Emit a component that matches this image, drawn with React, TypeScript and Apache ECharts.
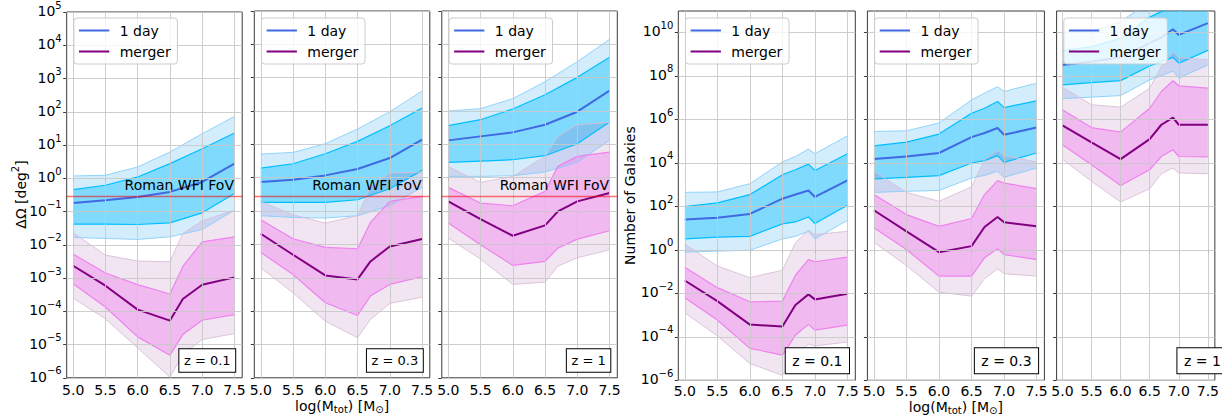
import React, { useEffect, useRef } from 'react';
import * as echarts from 'echarts';

const FONT = "'DejaVu Sans', 'Liberation Sans', sans-serif";

// ---------- x values: log10(M_tot / M_sun) ----------
const massLeftDay = [5.0, 5.5, 6.0, 6.5, 7.0, 7.5];
const massLeftMerger = [5.0, 5.5, 6.0, 6.5, 6.7, 7.0, 7.5];
const massRight = [5.0, 5.5, 6.0, 6.5, 6.7, 6.9, 7.0, 7.5];

const massTicks = [5.0, 5.5, 6.0, 6.5, 7.0, 7.5];
const areaTicksLog = [-6, -5, -4, -3, -2, -1, 0, 1, 2, 3, 4, 5];
const countTicksLog = [-6, -4, -2, 0, 2, 4, 6, 8, 10];
const redshiftLabels = ['z = 0.1', 'z = 0.3', 'z = 1'];
const romanWfiFov = 0.281; // deg^2
const legendNames = ['1 day', 'merger'];

// ---------- ΔΩ [deg²] panels, values are log10 ----------
// z = 0.1
const areaZ01DayMid = [-0.74, -0.66, -0.56, -0.41, -0.11, 0.44];
const areaZ01DayInHi = [-0.34, -0.21, 0.04, 0.44, 0.89, 1.36];
const areaZ01DayInLo = [-1.38, -1.38, -1.39, -1.34, -1.04, -0.46];
const areaZ01DayOutHi = [0.07, 0.09, 0.34, 0.79, 1.34, 1.86];
const areaZ01DayOutLo = [-1.78, -1.81, -1.84, -1.76, -1.54, -0.96];
const areaZ01MrgMid = [-2.63, -3.23, -3.95, -4.28, -3.63, -3.2, -2.98];
const areaZ01MrgInHi = [-2.28, -2.85, -3.2, -3.48, -2.65, -1.91, -1.76];
const areaZ01MrgInLo = [-3.17, -3.87, -4.77, -5.32, -4.7, -4.27, -4.1];
const areaZ01MrgOutHi = [-1.64, -2.31, -2.49, -2.51, -1.66, -1.28, -0.96];
const areaZ01MrgOutLo = [-3.6, -4.23, -5.1, -5.98, -5.3, -4.85, -4.67];
// z = 0.3
const areaZ03DayMid = [-0.13, -0.06, 0.07, 0.26, 0.59, 1.14];
const areaZ03DayInHi = [0.29, 0.42, 0.72, 1.09, 1.56, 2.09];
const areaZ03DayInLo = [-0.74, -0.74, -0.74, -0.66, -0.33, 0.22];
const areaZ03DayOutHi = [0.71, 0.76, 1.02, 1.46, 1.98, 2.6];
const areaZ03DayOutLo = [-1.14, -1.19, -1.21, -1.14, -0.84, -0.29];
const areaZ03MrgMid = [-1.68, -2.31, -2.93, -3.05, -2.51, -2.06, -1.84];
const areaZ03MrgInHi = [-1.26, -1.83, -2.09, -2.13, -1.34, -0.71, -0.56];
const areaZ03MrgInLo = [-2.24, -2.9, -3.75, -4.13, -3.55, -3.2, -2.97];
const areaZ03MrgOutHi = [-0.71, -1.11, -1.36, -1.14, -0.26, 0.14, 0.17];
const areaZ03MrgOutLo = [-2.7, -3.45, -4.3, -4.8, -4.25, -3.77, -3.58];
// z = 1
const areaZ1DayMid = [1.12, 1.24, 1.36, 1.59, 1.98, 2.61];
const areaZ1DayInHi = [1.56, 1.74, 2.06, 2.49, 3.01, 3.61];
const areaZ1DayInLo = [0.46, 0.5, 0.54, 0.66, 1.02, 1.67];
const areaZ1DayOutHi = [2.0, 2.07, 2.37, 2.88, 3.48, 4.15];
const areaZ1DayOutLo = [0.04, 0.04, 0.06, 0.17, 0.46, 1.12];
const areaZ1MrgMid = [-0.71, -1.24, -1.74, -1.43, -1.01, -0.71, -0.46];
const areaZ1MrgInHi = [-0.29, -0.76, -0.84, -0.41, 0.34, 0.64, 0.77];
const areaZ1MrgInLo = [-1.36, -2.01, -2.63, -2.51, -2.11, -1.84, -1.59];
const areaZ1MrgOutHi = [0.34, -0.14, 0.04, 0.64, 1.24, 1.59, 1.66];
const areaZ1MrgOutLo = [-1.81, -2.44, -3.2, -3.13, -2.65, -2.4, -2.16];

// ---------- Number of galaxies panels, values are log10 ----------
// z = 0.1
const countZ01DayMid = [1.39, 1.47, 1.65, 2.35, 2.54, 2.73, 2.43, 3.19];
const countZ01DayInHi = [1.99, 2.16, 2.54, 3.45, 3.68, 3.94, 3.65, 4.42];
const countZ01DayInLo = [0.5, 0.58, 0.62, 1.19, 1.28, 1.51, 1.21, 2.05];
const countZ01DayOutHi = [2.64, 2.66, 3.04, 4.04, 4.29, 4.63, 4.42, 5.24];
const countZ01DayOutLo = [-0.11, -0.06, -0.02, 0.5, 0.62, 0.85, 0.5, 1.36];
const countZ01MrgMid = [-1.41, -2.36, -3.44, -3.53, -2.54, -2.05, -2.28, -2.02];
const countZ01MrgInHi = [-0.8, -1.74, -2.39, -2.36, -1.17, -0.45, -0.55, -0.34];
const countZ01MrgInLo = [-2.2, -3.23, -4.53, -4.84, -3.93, -3.43, -3.69, -3.46];
const countZ01MrgOutHi = [0.27, -0.75, -1.28, -0.94, 0.32, 0.9, 0.7, 0.85];
const countZ01MrgOutLo = [-2.89, -3.96, -5.23, -5.77, -4.88, -4.34, -4.42, -4.24];
// z = 0.3
const countZ03DayMid = [4.17, 4.29, 4.45, 5.18, 5.37, 5.6, 5.29, 5.62];
const countZ03DayInHi = [4.78, 4.95, 5.32, 6.28, 6.51, 6.82, 6.54, 6.85];
const countZ03DayInLo = [3.26, 3.33, 3.41, 3.99, 4.1, 4.33, 4.02, 4.45];
const countZ03DayOutHi = [5.44, 5.47, 5.83, 6.89, 7.2, 7.5, 7.28, 7.66];
const countZ03DayOutLo = [2.64, 2.69, 2.73, 3.3, 3.42, 3.61, 3.33, 3.76];
const countZ03MrgMid = [1.82, 0.85, -0.11, 0.17, 1.05, 1.51, 1.27, 1.08];
const countZ03MrgInHi = [2.54, 1.62, 1.08, 1.44, 2.54, 3.18, 3.07, 2.81];
const countZ03MrgInLo = [1.01, 0.01, -1.21, -1.21, -0.37, 0.05, -0.22, -0.45];
const countZ03MrgOutHi = [3.61, 2.64, 2.23, 2.89, 4.14, 4.57, 4.33, 4.04];
const countZ03MrgOutLo = [0.35, -0.72, -1.95, -2.13, -1.33, -0.87, -1.1, -1.21];
// z = 1
const countZ1DayMid = [8.5, 8.65, 8.85, 9.5, 9.77, 10.14, 9.88, 10.42];
const countZ1DayInHi = [9.16, 9.33, 9.72, 10.7, 10.95, 11.25, 11.0, 11.5];
const countZ1DayInLo = [7.58, 7.69, 7.78, 8.45, 8.65, 8.85, 8.58, 9.17];
const countZ1DayOutHi = [10.0, 10.05, 10.5, 11.4, 11.7, 12.0, 11.8, 12.3];
const countZ1DayOutLo = [6.95, 7.02, 7.09, 7.81, 8.0, 8.22, 7.89, 8.5];
const countZ1MrgMid = [5.72, 4.94, 4.17, 5.09, 5.75, 6.08, 5.75, 5.75];
const countZ1MrgInHi = [6.44, 5.62, 5.41, 6.51, 7.28, 7.77, 7.54, 7.43];
const countZ1MrgInLo = [4.83, 3.91, 2.96, 3.68, 4.29, 4.6, 4.29, 4.27];
const countZ1MrgOutHi = [7.48, 6.67, 6.56, 7.43, 8.42, 9.11, 8.84, 8.73];
const countZ1MrgOutLo = [4.17, 3.15, 2.2, 2.81, 3.5, 3.76, 3.53, 3.5];

// ---------- styling ----------
const C_DAY = '#4169E1';
const C_MRG = '#800080';
const C_DAY_IN = '#00BFFF';
const C_DAY_OUT = '#87CEFA';
const C_MRG_IN = '#EE82EE';
const C_MRG_OUT_EDGE = '#d8bfd8';
const FILL_DAY_OUT = 'rgba(135,206,250,0.36)';
const FILL_DAY_IN = 'rgba(0,191,255,0.4)';
const FILL_MRG_OUT = 'rgba(128,0,128,0.1)';
const FILL_MRG_IN = 'rgba(238,130,238,0.45)';
const FRAME = '#3a3a3a';
const GRIDC = '#c9c9c9';

type Band = { mid: number[]; inHi: number[]; inLo: number[]; outHi: number[]; outLo: number[] };
const mk = (mid: number[], inHi: number[], inLo: number[], outHi: number[], outLo: number[]): Band => ({ mid, inHi, inLo, outHi, outLo });

const leftData = [
  { day: mk(areaZ01DayMid, areaZ01DayInHi, areaZ01DayInLo, areaZ01DayOutHi, areaZ01DayOutLo), mrg: mk(areaZ01MrgMid, areaZ01MrgInHi, areaZ01MrgInLo, areaZ01MrgOutHi, areaZ01MrgOutLo) },
  { day: mk(areaZ03DayMid, areaZ03DayInHi, areaZ03DayInLo, areaZ03DayOutHi, areaZ03DayOutLo), mrg: mk(areaZ03MrgMid, areaZ03MrgInHi, areaZ03MrgInLo, areaZ03MrgOutHi, areaZ03MrgOutLo) },
  { day: mk(areaZ1DayMid, areaZ1DayInHi, areaZ1DayInLo, areaZ1DayOutHi, areaZ1DayOutLo), mrg: mk(areaZ1MrgMid, areaZ1MrgInHi, areaZ1MrgInLo, areaZ1MrgOutHi, areaZ1MrgOutLo) },
];
const rightData = [
  { day: mk(countZ01DayMid, countZ01DayInHi, countZ01DayInLo, countZ01DayOutHi, countZ01DayOutLo), mrg: mk(countZ01MrgMid, countZ01MrgInHi, countZ01MrgInLo, countZ01MrgOutHi, countZ01MrgOutLo) },
  { day: mk(countZ03DayMid, countZ03DayInHi, countZ03DayInLo, countZ03DayOutHi, countZ03DayOutLo), mrg: mk(countZ03MrgMid, countZ03MrgInHi, countZ03MrgInLo, countZ03MrgOutHi, countZ03MrgOutLo) },
  { day: mk(countZ1DayMid, countZ1DayInHi, countZ1DayInLo, countZ1DayOutHi, countZ1DayOutLo), mrg: mk(countZ1MrgMid, countZ1MrgInHi, countZ1MrgInLo, countZ1MrgOutHi, countZ1MrgOutLo) },
];

const L_LEFTS = [66.7, 254.3, 441.8];
const L_W = 175.5;
const L_TOP = 11;
const L_H = 366.8;
const R_LEFTS = [678.3, 867.4, 1056.6];
const R_W = 177;
const R_TOP = 11;
const R_H = 369.3;

const supText = (n: number) => (n < 0 ? '\u2212' + Math.abs(n) : String(n));

function buildOption() {
  const panels = [
    ...leftData.map((d, i) => ({ ...d, left: L_LEFTS[i], width: L_W, top: L_TOP, height: L_H, dayX: massLeftDay, mrgX: massLeftMerger, zText: redshiftLabels[i], first: i === 0, yMin: -6, yMax: 5, yTicks: areaTicksLog, isLeft: true })),
    ...rightData.map((d, i) => ({ ...d, left: R_LEFTS[i], width: R_W, top: R_TOP, height: R_H, dayX: massRight, mrgX: massRight, zText: redshiftLabels[i], first: i === 0, yMin: -6, yMax: 10.98, yTicks: countTicksLog, isLeft: false })),
  ];

  const series: any[] = [];
  const base = (idx: number) => ({ xAxisIndex: idx, yAxisIndex: idx, silent: true, emphasis: { disabled: true }, animation: false });
  const line = (idx: number, x: number[], y: number[], color: string, width: number, opacity = 1) => ({
    ...base(idx), type: 'line', symbol: 'none', showSymbol: false, clip: true,
    data: x.map((v, i) => [v, y[i]]),
    lineStyle: { color, width, opacity },
  });

  const band = (idx: number, x: number[], lo: number[], hi: number[], fill: string, edge: string, edgeW: number, edgeOp: number) => {
    series.push({
      ...base(idx), type: 'custom', clip: true,
      data: x.map((v, i) => [v, lo[i], hi[i]]),
      encode: { x: 0, y: [1, 2] },
      renderItem: (params: any, api: any) => {
        if (params.dataIndex !== 0) return null;
        const upper = x.map((v, i) => api.coord([v, hi[i]]));
        const lower = x.map((v, i) => api.coord([v, lo[i]])).reverse();
        return { type: 'polygon', silent: true, shape: { points: upper.concat(lower) }, style: { fill, stroke: 'none' } };
      },
    });
    series.push(line(idx, x, hi, edge, edgeW, edgeOp));
    series.push(line(idx, x, lo, edge, edgeW, edgeOp));
  };

  panels.forEach((p, idx) => {
    band(idx, p.dayX, p.day.outLo, p.day.outHi, FILL_DAY_OUT, C_DAY_OUT, 1, 0.9);
    band(idx, p.dayX, p.day.inLo, p.day.inHi, FILL_DAY_IN, C_DAY_IN, 1.2, 1);
    band(idx, p.mrgX, p.mrg.outLo, p.mrg.outHi, FILL_MRG_OUT, C_MRG_OUT_EDGE, 1, 0.9);
    band(idx, p.mrgX, p.mrg.inLo, p.mrg.inHi, FILL_MRG_IN, C_MRG_IN, 1.2, 1);
    // grid lines drawn above the fills, below the central lines
    series.push({
      ...base(idx), type: 'line', data: [],
      markLine: {
        silent: true, symbol: ['none', 'none'], label: { show: false }, animation: false,
        lineStyle: { color: GRIDC, width: 1, type: 'solid', opacity: 0.9 },
        emphasis: { disabled: true },
        data: [...massTicks.map((v) => ({ xAxis: v })), ...p.yTicks.map((v) => ({ yAxis: v }))],
      },
    });
    series.push(line(idx, p.dayX, p.day.mid, C_DAY, 2));
    const mrgLine: any = line(idx, p.mrgX, p.mrg.mid, C_MRG, 2);
    if (p.isLeft) {
      const fovLog = Math.log10(romanWfiFov);
      mrgLine.markLine = {
        silent: true, symbol: ['none', 'none'], label: { show: false }, animation: false,
        lineStyle: { color: '#ff0000', opacity: 0.55, width: 1.3, type: 'solid' },
        emphasis: { disabled: true },
        data: [{ yAxis: fovLog }],
      };
      mrgLine.markPoint = {
        silent: true, symbol: 'circle', symbolSize: 1, animation: false,
        itemStyle: { color: 'rgba(0,0,0,0)' },
        label: { show: true, formatter: 'Roman WFI FoV', position: [0, -4], align: 'right', verticalAlign: 'bottom', fontSize: 14, fontFamily: FONT, color: '#000' },
        data: [{ coord: [7.5, fovLog], name: 'fov' }],
      };
    }
    series.push(mrgLine);
  });

  const Z = 100;
  const graphic: any[] = [];
  panels.forEach((p) => {
    const gl = p.left;
    const gt = p.top;
    graphic.push(
      { type: 'rect', z: Z, silent: true, shape: { x: gl + 7.2, y: gt + 7, width: 103.5, height: 46, r: 3 }, style: { fill: 'rgba(255,255,255,0.8)', stroke: '#cccccc', lineWidth: 1 } },
      { type: 'line', z: Z + 1, silent: true, shape: { x1: gl + 12.3, y1: gt + 19.5, x2: gl + 42.6, y2: gt + 19.5 }, style: { stroke: C_DAY, lineWidth: 2 } },
      { type: 'line', z: Z + 1, silent: true, shape: { x1: gl + 12.3, y1: gt + 40.5, x2: gl + 42.6, y2: gt + 40.5 }, style: { stroke: C_MRG, lineWidth: 2 } },
      { type: 'text', z: Z + 1, silent: true, x: gl + 53, y: gt + 19.5, style: { text: legendNames[0], fontSize: 14, fontFamily: FONT, fill: '#000', align: 'left', verticalAlign: 'middle' } },
      { type: 'text', z: Z + 1, silent: true, x: gl + 53, y: gt + 40.5, style: { text: legendNames[1], fontSize: 14, fontFamily: FONT, fill: '#000', align: 'left', verticalAlign: 'middle' } },
    );
    const right = p.left + p.width;
    const bottom = p.top + p.height;
    graphic.push({
      type: 'text', z: Z, silent: true,
      x: p.isLeft ? right - 7 : right - 6.3,
      y: p.isLeft ? bottom - 6 : bottom - 7,
      style: {
        text: p.zText, fontSize: p.isLeft ? 13 : 14, fontFamily: FONT, fill: '#000',
        align: 'right', verticalAlign: 'bottom',
        padding: p.isLeft ? [4.8, 4.6, 4.8, 4.6] : [5.5, 6.5, 5.5, 6.5],
        backgroundColor: '#fff', borderColor: '#000', borderWidth: 1,
      },
    });
  });

  const titleRich = {
    a: { fontSize: 14, fontFamily: FONT, color: '#000' },
    b: { fontSize: 10, fontFamily: FONT, color: '#000', padding: [8, 0, 0, 0] },
    s: { fontSize: 10, fontFamily: FONT, color: '#000', padding: [0, 0, 10, 0] },
  };
  graphic.push({ type: 'text', z: Z, silent: true, x: 20.5, y: 194.5, rotation: Math.PI / 2, style: { text: '{a|\u0394\u03A9 [deg}{s|2}{a|]}', rich: titleRich, align: 'center', verticalAlign: 'middle', fill: '#000' } });
  graphic.push({ type: 'text', z: Z, silent: true, x: 629.5, y: 195.6, rotation: Math.PI / 2, style: { text: 'Number of Galaxies', fontSize: 14, fontFamily: FONT, fill: '#000', align: 'center', verticalAlign: 'middle' } });
  const xTitle = '{a|log(M}{b|tot}{a|) [M}{b|\u2299}{a|]}';
  graphic.push({ type: 'text', z: Z, silent: true, x: L_LEFTS[1] + L_W / 2, y: 405.5, style: { text: xTitle, rich: titleRich, align: 'center', verticalAlign: 'middle', fill: '#000' } });
  graphic.push({ type: 'text', z: Z, silent: true, x: R_LEFTS[1] + R_W / 2, y: 406.5, style: { text: xTitle, rich: titleRich, align: 'center', verticalAlign: 'middle', fill: '#000' } });

  return {
    animation: false,
    backgroundColor: '#ffffff',
    textStyle: { fontFamily: FONT },
    grid: panels.map((p) => ({ left: p.left, top: p.top, width: p.width, height: p.height, show: true, borderColor: FRAME, borderWidth: 1, backgroundColor: 'rgba(0,0,0,0)', containLabel: false })),
    xAxis: panels.map((p, i) => ({
      type: 'value', gridIndex: i, min: 4.9, max: 7.62,
      axisLine: { show: false },
      axisTick: { show: true, inside: false, length: 3.5, lineStyle: { color: FRAME, width: 1 }, customValues: massTicks },
      axisLabel: { show: true, customValues: massTicks, formatter: (v: number) => v.toFixed(1), fontSize: 14, fontFamily: FONT, color: '#000', margin: p.isLeft ? 5 : 3.5 },
      splitLine: { show: false },
    })),
    yAxis: panels.map((p, i) => ({
      type: 'value', gridIndex: i, min: p.yMin, max: p.yMax,
      axisLine: { show: false },
      axisTick: { show: true, inside: false, length: 3.5, lineStyle: { color: FRAME, width: 1 }, customValues: p.yTicks },
      axisLabel: {
        show: p.first, customValues: p.yTicks, margin: 5,
        formatter: (v: number) => `{b|10}{s|${supText(Math.round(v))}}`,
        rich: {
          b: { fontSize: 14, fontFamily: FONT, color: '#000', padding: [0, 0, 2, 0] },
          s: { fontSize: 10, fontFamily: FONT, color: '#000', padding: [0, 0, 14, 0] },
        },
      },
      splitLine: { show: false },
    })),
    series,
    graphic: { elements: graphic },
  };
}

export default function App() {
  const ref = useRef<HTMLDivElement>(null);
  useEffect(() => {
    if (!ref.current) return;
    const chart = echarts.init(ref.current, undefined, { renderer: 'svg' });
    chart.setOption(buildOption() as any);
    return () => chart.dispose();
  }, []);
  return <div ref={ref} style={{ position: 'fixed', left: 0, top: 0, width: 1222, height: 418, background: '#fff' }} />;
}
